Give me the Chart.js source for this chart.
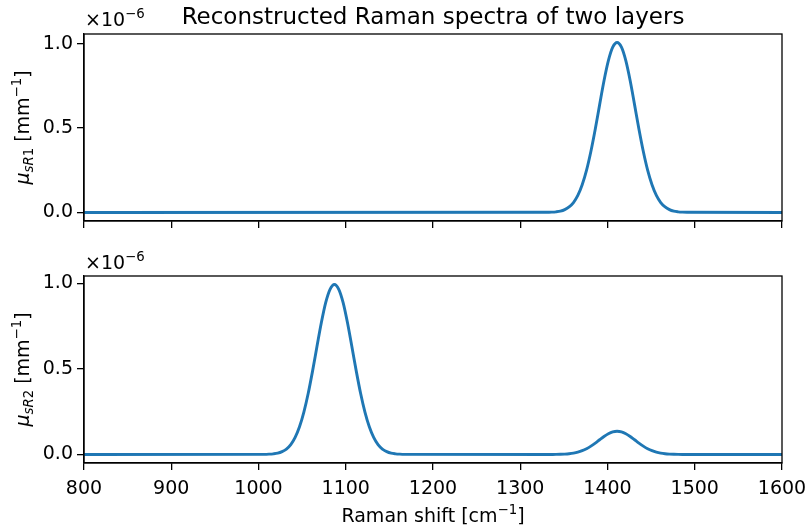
<!DOCTYPE html>
<html lang="en">
<head>
<meta charset="UTF-8">
<title>Reconstructed Raman spectra</title>
<script src="https://cdn.jsdelivr.net/npm/chart.js@4"></script>
<style>
  body { margin: 0; background: #fff; }
  #wrap { position: relative; width: 808px; height: 531px; }
  canvas { position: absolute; left: 0; }
</style>
</head>
<body>
<div id="wrap">
  <canvas id="layer1" width="808" height="240" style="top:0"></canvas>
  <canvas id="layer2" width="808" height="291" style="top:240px"></canvas>
</div>
<script>
// tick positions shared by both panels
const xTicks = [800, 900, 1000, 1100, 1200, 1300, 1400, 1500, 1600];
const yTicks = [0, 0.5, 1.0];

// layer 1 spectrum (units of 1e-6 mm^-1)
const layer1Shift = [800,
  1331, 1336, 1341, 1346, 1351, 1356, 1361, 1366, 1371, 1376, 1381, 1386, 1391, 1396, 1401, 1406,
  1411, 1416, 1421, 1426, 1431, 1436, 1441, 1446, 1451, 1456, 1461, 1466, 1471, 1476, 1481, 1486, 1491,
  1600];
const layer1Mu = [0,
  0.001, 0.002, 0.004, 0.008, 0.017, 0.033, 0.059, 0.101, 0.164, 0.251, 0.363, 0.495, 0.639, 0.780, 0.899, 0.979,
  1.007, 0.979, 0.899, 0.780, 0.639, 0.495, 0.363, 0.251, 0.164, 0.101, 0.059, 0.033, 0.017, 0.008, 0.004, 0.002, 0.001,
  0];

// layer 2 spectrum: main band near 1087 plus a small band near 1411
const layer2Shift = [800,
  1007, 1012, 1017, 1022, 1027, 1032, 1037, 1042, 1047, 1052, 1057, 1062, 1067, 1072, 1077, 1082,
  1087, 1092, 1097, 1102, 1107, 1112, 1117, 1122, 1127, 1132, 1137, 1142, 1147, 1152, 1157, 1162, 1167,
  1331, 1336, 1341, 1346, 1351, 1356, 1361, 1366, 1371, 1376, 1381, 1386, 1391, 1396, 1401, 1406,
  1411, 1416, 1421, 1426, 1431, 1436, 1441, 1446, 1451, 1456, 1461, 1466, 1471, 1476, 1481, 1486, 1491,
  1600];
const layer2Mu = [0,
  0.001, 0.002, 0.004, 0.008, 0.017, 0.032, 0.058, 0.100, 0.162, 0.248, 0.358, 0.489, 0.631, 0.770, 0.888, 0.966,
  0.994, 0.966, 0.888, 0.770, 0.631, 0.489, 0.358, 0.248, 0.162, 0.100, 0.058, 0.032, 0.017, 0.008, 0.004, 0.002, 0.001,
  0.0001, 0.0002, 0.0005, 0.0011, 0.0023, 0.0044, 0.0080, 0.0137, 0.0222, 0.0339, 0.0490, 0.0669, 0.0864, 0.1054, 0.1214, 0.1322,
  0.1360, 0.1322, 0.1214, 0.1054, 0.0864, 0.0669, 0.0490, 0.0339, 0.0222, 0.0137, 0.0080, 0.0044, 0.0023, 0.0011, 0.0005, 0.0002, 0.0001,
  0];

const FONT = "'DejaVu Sans', sans-serif";
const big = `19px ${FONT}`;
const small = `13.3px ${FONT}`;
const bigIt = `italic 19px ${FONT}`;
const smallIt = `italic 13.3px ${FONT}`;
const titleFont = `23px ${FONT}`;

// draws a row of text pieces (for sub/superscripts) starting at x, or centred on x
function drawRuns(ctx, runs, x, y, align) {
    ctx.save();
    let total = 0;
    const widths = runs.map(r => { ctx.font = r.font; const w = ctx.measureText(r.text).width; total += w; return w; });
    let cx = align === 'center' ? x - total / 2 : x;
    ctx.textAlign = 'left';
    ctx.textBaseline = 'alphabetic';
    ctx.fillStyle = '#000';
    runs.forEach((r, i) => {
        ctx.font = r.font;
        ctx.fillText(r.text, cx, y + (r.dy || 0));
        cx += widths[i];
    });
    ctx.restore();
}

const muLabel = (n) => [
    { text: 'μ', font: bigIt },
    { text: 'sR', font: smallIt, dy: 3.8 },
    { text: n, font: small, dy: 3.8 },
    { text: ' [mm', font: big },
    { text: '−1', font: small, dy: -7.6 },
    { text: ']', font: big }
];

// box around the plot area plus the hand-set labels
const frame = {
    id: 'frame',
    afterDraw(chart, args, opts) {
        const { ctx, chartArea: a } = chart;
        ctx.save();
        ctx.strokeStyle = '#000';
        ctx.lineWidth = 1.3;
        ctx.strokeRect(a.left, a.top, a.right - a.left, a.bottom - a.top);
        ctx.restore();

        drawRuns(ctx, [{ text: '×10', font: big }, { text: '−6', font: small, dy: -7.6 }], a.left + 1, opts.offsetY);

        ctx.save();
        ctx.translate(29, (a.top + a.bottom) / 2);
        ctx.rotate(-Math.PI / 2);
        drawRuns(ctx, muLabel(opts.layer), 0, 0, 'center');
        ctx.restore();

        if (opts.title) {
            drawRuns(ctx, [{ text: opts.title, font: titleFont }], (a.left + a.right) / 2, 24, 'center');
        }
        if (opts.xLabel) {
            drawRuns(ctx, [
                { text: 'Raman shift [cm', font: big },
                { text: '−1', font: small, dy: -7.6 },
                { text: ']', font: big }
            ], (a.left + a.right) / 2, opts.xLabelY, 'center');
        }
    }
};

function makeChart(id, xs, ys, cfg) {
    const points = xs.map((x, i) => ({ x: x, y: ys[i] }));
    return new Chart(document.getElementById(id), {
        type: 'scatter',
        data: {
            datasets: [{
                data: points,
                showLine: true,
                borderColor: '#1f77b4',
                borderWidth: 2.9,
                pointRadius: 0,
                cubicInterpolationMode: 'monotone',
                clip: 0
            }]
        },
        options: {
            responsive: false,
            animation: false,
            devicePixelRatio: 1,
            layout: { padding: { top: cfg.padTop, right: 26, bottom: cfg.padBottom, left: 0 } },
            plugins: {
                legend: { display: false },
                tooltip: { enabled: false },
                frame: cfg.frame
            },
            scales: {
                x: {
                    type: 'linear',
                    min: 800,
                    max: 1600,
                    afterBuildTicks: axis => { axis.ticks = xTicks.map(v => ({ value: v })); },
                    afterFit: axis => {
                        // keep the plot box fixed; end labels may hang into the margin
                        axis.height = cfg.xHeight;
                        axis.paddingLeft = 0;
                        axis.paddingRight = 0;
                    },
                    grid: { drawOnChartArea: false, drawTicks: true, tickLength: 7, color: '#000', lineWidth: 1.3 },
                    border: { display: true, color: '#000', width: 1.3 },
                    ticks: {
                        display: cfg.xLabels,
                        color: '#000',
                        font: { family: FONT, size: 19 },
                        padding: 8,
                        maxRotation: 0,
                        callback: v => String(v)
                    }
                },
                y: {
                    type: 'linear',
                    min: cfg.yMin,
                    max: cfg.yMax,
                    afterBuildTicks: axis => { axis.ticks = yTicks.map(v => ({ value: v })); },
                    afterFit: axis => {
                        axis.width = 84;
                        axis.paddingTop = 0;
                        axis.paddingBottom = 0;
                    },
                    grid: { drawOnChartArea: false, drawTicks: true, tickLength: 7, color: '#000', lineWidth: 1.3 },
                    border: { display: true, color: '#000', width: 1.3 },
                    ticks: {
                        color: '#000',
                        font: { family: FONT, size: 19 },
                        padding: 4,
                        callback: v => v.toFixed(1)
                    }
                }
            }
        },
        plugins: [frame]
    });
}

makeChart('layer1', layer1Shift, layer1Mu, {
    padTop: 34, padBottom: 12, xHeight: 7, xLabels: false,
    yMin: -0.0504, yMax: 1.0574,
    frame: { layer: '1', offsetY: 26, title: 'Reconstructed Raman spectra of two layers' }
});

makeChart('layer2', layer2Shift, layer2Mu, {
    padTop: 36, padBottom: 0, xHeight: 68, xLabels: true,
    yMin: -0.0497, yMax: 1.0437,
    frame: { layer: '2', offsetY: 29, xLabel: true, xLabelY: 282 }
});
</script>
</body>
</html>
